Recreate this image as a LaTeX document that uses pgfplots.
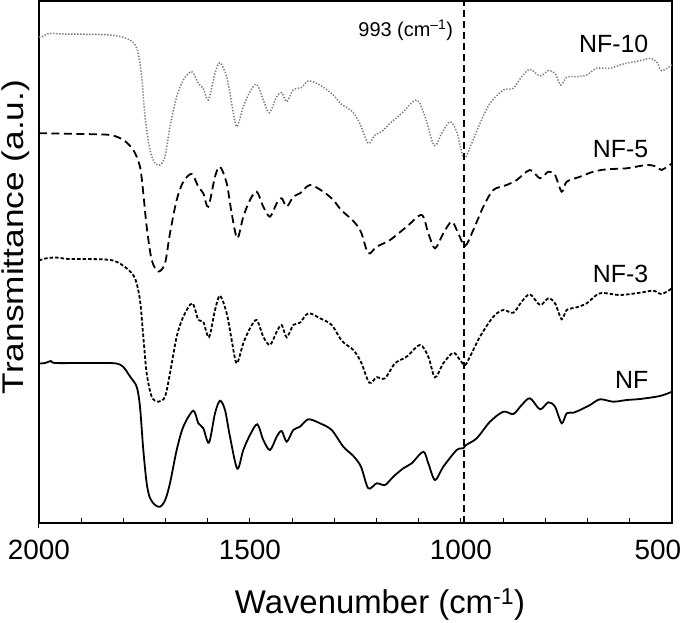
\documentclass[border=0pt]{standalone}
\usepackage{pgfplots}
\pgfplotsset{compat=1.18}
\usepackage{fontspec}
\setmainfont{Liberation Sans}
\usepackage{graphicx}
\definecolor{dotgray}{RGB}{120,120,120}
\begin{document}
\begin{tikzpicture}
\begin{axis}[
  scale only axis, width=633bp, height=522bp,
  xmin=500, xmax=2000, ymin=-2, ymax=520, x dir=reverse,
  xtick={500,1000,1500,2000},
  xticklabels={\makebox[0pt][c]{\hspace*{-28bp}500},1000,1500,2000},
  minor xtick={600,700,800,900,1100,1200,1300,1400,1600,1700,1800,1900},
  ytick=\empty, xtick pos=bottom,
  tick align=inside, major tick length=5bp, minor tick length=5bp,
  major tick style={black, line width=1bp, shorten <=-5bp},
  minor tick style={black, line width=1bp},
  axis line style={line width=1.6bp},
  xticklabel style={font=\fontsize{28}{30}\selectfont, anchor=base, yshift=-36.3bp},
  xlabel={Wavenumber (cm\textsuperscript{-1})},
  xlabel style={font=\fontsize{33}{36}\selectfont, at={(axis description cs:0.5387,0)}, anchor=base, yshift=-90.3bp},
  ylabel={\scalebox{1.18}[1]{Transmittance (a.u.)}},
  ylabel style={font=\fontsize{30}{33}\selectfont, at={(axis description cs:-0.0237,0.548)}, anchor=base, rotate=0},
  every axis plot/.append style={smooth, tension=0.5, line width=1.8bp},
  clip=false,
]
\coordinate (bl) at (rel axis cs:0,0);
\coordinate (tr) at (rel axis cs:1,1);

\addplot[black] coordinates {
(2000,157.5)(1985,158)(1972,160)(1962,158)(1900,158)(1850,158)(1816,157.5)(1800,154)(1784,144.3)(1768.5,134.3)(1760.7,114.3)(1752.8,71)(1744.8,37.7)(1737,23)(1725,16)(1713,14.3)(1701,21)(1689.6,37.7)(1673.7,71)(1658,94.3)(1634.4,110.3)(1622.5,97.7)(1610.7,92.7)(1597.2,78.3)(1582.9,107.7)(1571.1,120.3)(1559.2,111)(1547.4,84.3)(1530.1,52.3)(1515.9,71)(1500,86)(1482.7,96.7)(1468.5,81)(1452.6,71)(1436.7,84.3)(1424.9,90)(1413,79.3)(1397.4,91)(1381.5,94.3)(1361.8,101.7)(1334.1,97.7)(1306.4,91)(1278.9,74.3)(1255.2,65)(1237,54.3)(1219.7,32.7)(1199.8,37.7)(1180.1,36)(1160.4,44.3)(1136.7,52.7)(1116.8,57.7)(1089.3,69.3)(1077.5,57.7)(1061.6,41)(1041.9,54.3)(1010.2,71)(994.5,72.7)(988,76)(962.8,82.7)(931.3,99.3)(899.7,109.3)(876,107)(856.2,116)(836.5,122.7)(812.8,111.7)(793.1,118.7)(777.2,114.3)(761.4,97.7)(749.5,107.7)(733.9,108.3)(717.8,111)(694.3,116)(670.6,121.7)(639.1,119.3)(607.3,121)(575.8,122)(528.4,125)(500,129.3)
};

\addplot[black, dash pattern=on 3.5bp off 2bp] coordinates {
(2000,260.5)(1985,262.5)(1960,263.5)(1930,262)(1880,262)(1824.6,260.5)(1792.2,252.7)(1772.5,242.7)(1760.7,221)(1752.8,184.3)(1744.8,147.7)(1732.9,124.3)(1717.3,119.3)(1701.4,124.3)(1689.6,147.7)(1673.7,184.3)(1658,204.3)(1636.7,217.7)(1622.5,201)(1610.7,199.3)(1597.2,183.7)(1582.9,211)(1571.1,225.3)(1555.2,207.7)(1543.4,181)(1531.5,157.7)(1515.9,177.7)(1500,192.7)(1484.1,201)(1468.5,184.3)(1452.6,176)(1436.7,189.3)(1424.9,196)(1413,183.7)(1397.4,196)(1381.5,198.3)(1361.8,207.7)(1334.1,202.7)(1306.4,196)(1282,180)(1255.2,171)(1237,159)(1217.3,138.3)(1199.8,143.7)(1180.1,142.7)(1156.4,157.7)(1128.7,164.3)(1097.1,176)(1077.5,164.3)(1061.6,143.7)(1041.9,157.7)(1018.2,168.3)(1002.4,161)(990.5,156)(978.7,164.3)(955,184.3)(923.4,204.3)(899.7,211)(876,208.3)(856.2,219.3)(836.5,226.7)(812.8,216)(793.1,222.7)(777.2,217.7)(761.4,201.7)(749.5,211)(725.8,213.7)(702.1,217.7)(670.6,227.7)(623.2,226)(575.8,228.3)(544.3,230.3)(524.4,227)(500,232.7)
};

\addplot[black, dash pattern=on 8bp off 4.5bp] coordinates {
(2000,387.5)(1989.8,387.7)(1900,387)(1831.7,386)(1800.2,381)(1776.5,371)(1760.7,354.3)(1752.8,327.7)(1744.8,294.3)(1732.9,261)(1717.3,249.5)(1701.4,257.7)(1689.6,287.7)(1673.7,321)(1658,339.3)(1638.1,347)(1622.5,334.3)(1610.7,327.7)(1598.8,314.3)(1582.9,344.3)(1571.1,354.3)(1555.2,337.7)(1543.4,307.7)(1530.1,282.7)(1515.9,304.3)(1500,321)(1484.1,329.3)(1468.5,314.3)(1452.6,304.3)(1436.7,317.7)(1424.9,322.7)(1413,314.3)(1397.4,324.3)(1381.5,327.7)(1357.8,336)(1326.3,329.3)(1302.6,321)(1284,311)(1255.2,300)(1237,289)(1219.7,267.7)(1199.8,274.3)(1168.2,281)(1128.7,294.3)(1093.1,306)(1077.5,287.7)(1061.6,272.7)(1041.9,287.7)(1022,299.3)(1006.4,287.7)(990.5,275)(970.8,291)(947.1,314.3)(923.4,331)(891.7,336)(868,341)(836.5,351)(812.8,342.7)(793.1,349.3)(777.2,346)(761.4,329.3)(749.5,339.3)(717.8,344.3)(686.4,349.3)(654.7,351.7)(607.3,352.7)(559.9,356)(536.3,354.3)(524.4,351)(500,357.7)
};

\addplot[dotgray, line width=1.5bp, dash pattern=on 1.3bp off 1.7bp] coordinates {
(2000,484)(1993.6,484.3)(1973.9,487.7)(1942.4,487)(1831.7,486)(1784.4,481)(1767.1,471)(1756.6,444.3)(1748.8,404.3)(1737,371)(1725.1,357.7)(1713.3,356)(1701.4,364.3)(1689.6,394.3)(1673.7,424.3)(1658,441)(1638.1,449.3)(1622.5,437.7)(1610.7,432.7)(1598.8,421)(1582.9,447.7)(1571.1,458.3)(1555.2,444.3)(1543.4,417.7)(1531.5,394.3)(1515.9,414.3)(1500,429.3)(1484.1,436.7)(1468.5,421)(1454.3,408.3)(1436.7,424.3)(1424.9,428.3)(1413,419.3)(1397.4,431)(1377.5,433.7)(1361.8,440)(1334.1,436)(1302.6,426)(1284,417)(1257,409.3)(1239.3,397)(1219.7,377.7)(1203.8,386)(1187.9,389.3)(1168.2,397.7)(1140.5,407.7)(1105,421)(1085.3,404.3)(1063.3,375.3)(1045.7,387.7)(1026,399.3)(1010.2,389.3)(992.9,362.7)(974.7,377.7)(955,397.7)(931.3,417.7)(899.7,431)(876,432.7)(856.2,444.3)(836.5,451.7)(812.8,445)(793.1,450.3)(777.2,447.7)(763.7,436)(749.5,443.7)(725.8,444.3)(702.1,446)(678.4,452.7)(646.9,452.7)(615.4,457)(575.8,460.3)(552.2,462.7)(536.3,459.3)(524.4,450.3)(500,456)
};

\draw[black, line width=1.5bp, dash pattern=on 7bp off 4bp] (axis cs:993,-2) -- (axis cs:993,520);

\node[anchor=base east, inner sep=0, font=\fontsize{20}{22}\selectfont] at (axis cs:1018.2,484.3) {993 (cm\textsuperscript{--1})};
\node[anchor=base east, inner sep=0, font=\fontsize{25}{28}\selectfont] at (axis cs:555.7,468.7) {NF-10};
\node[anchor=base east, inner sep=0, font=\fontsize{25}{28}\selectfont] at (axis cs:555.7,363.7) {NF-5};
\node[anchor=base east, inner sep=0, font=\fontsize{25}{28}\selectfont] at (axis cs:555.7,238.7) {NF-3};
\node[anchor=base east, inner sep=0, font=\fontsize{25}{28}\selectfont] at (axis cs:555.7,132.7) {NF};
\end{axis}
\pgfresetboundingbox
\path[use as bounding box] ([xshift=-39bp,yshift=-100bp]bl) rectangle ([xshift=13bp,yshift=1bp]tr);
\end{tikzpicture}
\end{document}
